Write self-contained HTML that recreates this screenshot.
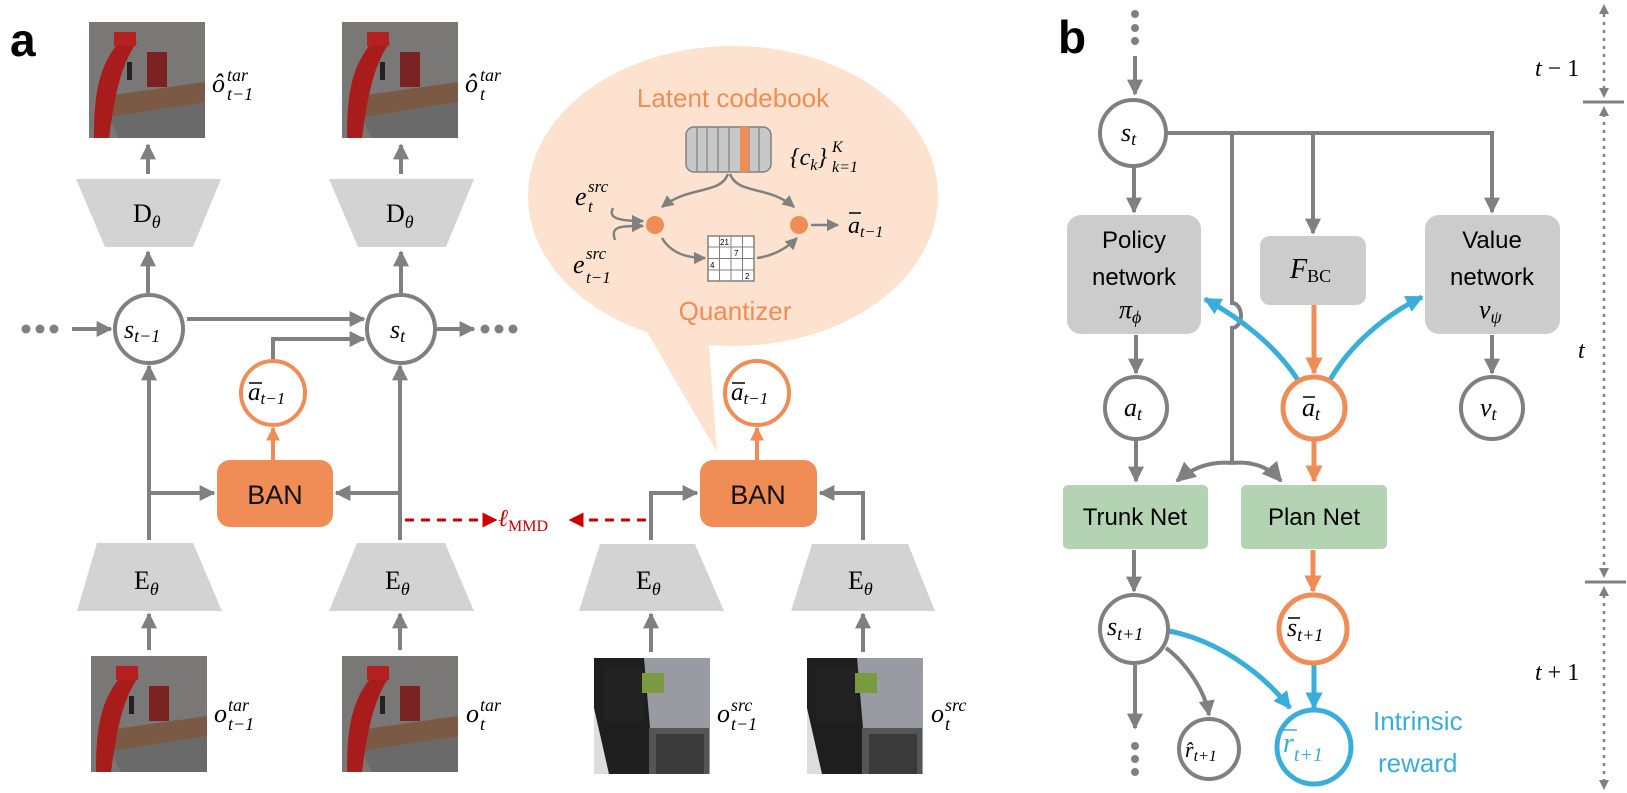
<!DOCTYPE html>
<html><head><meta charset="utf-8"><style>
html,body{margin:0;padding:0;background:#fff;}
svg{display:block;}
.m{font-family:"Liberation Serif",serif;font-style:italic;}
.r{font-family:"Liberation Serif",serif;}
.s{font-family:"Liberation Sans",sans-serif;}
</style></head><body>
<svg width="1627" height="793" viewBox="0 0 1627 793" xmlns="http://www.w3.org/2000/svg">
<defs>
<marker id="ag" viewBox="0 0 10 10" refX="9" refY="5" markerWidth="4" markerHeight="4" orient="auto"><path d="M0,0L10,5L0,10z" fill="#808080"/></marker>
<marker id="ao" viewBox="0 0 10 10" refX="9" refY="5" markerWidth="3.5" markerHeight="3.5" orient="auto"><path d="M0,0L10,5L0,10z" fill="#f08c55"/></marker>
<marker id="ab" viewBox="0 0 10 10" refX="9" refY="5" markerWidth="3.5" markerHeight="3.5" orient="auto"><path d="M0,0L10,5L0,10z" fill="#3aaedb"/></marker>
<marker id="ar" viewBox="0 0 10 10" refX="9" refY="5" markerWidth="5" markerHeight="5" orient="auto"><path d="M0,0L10,5L0,10z" fill="#cc0000"/></marker>
<marker id="as" viewBox="0 0 10 10" refX="9" refY="5" markerWidth="5" markerHeight="5" orient="auto"><path d="M0,0L10,5L0,10z" fill="#808080"/></marker>
<marker id="at" viewBox="0 0 10 10" refX="9" refY="5" markerWidth="5" markerHeight="5" orient="auto"><path d="M0,0L10,5L0,10z" fill="#808080"/></marker>
<g id="sim">
<rect width="116" height="116" fill="#7a7876"/>
<polygon points="10,75 116,60 116,116 30,116" fill="#7a5a45"/>
<polygon points="20,95 116,80 116,116 30,116" fill="#6a6a6a"/>
<path d="M5,116 C5,70 10,40 35,15 L48,20 C30,45 25,80 20,116z" fill="#a81c1c"/>
<rect x="25" y="10" width="22" height="14" fill="#b52020"/>
<rect x="58" y="30" width="20" height="35" fill="#7a2222"/>
<rect x="38" y="40" width="5" height="18" fill="#222"/>
</g>
<g id="kit">
<rect width="116" height="116" fill="#9a9aa2"/>
<polygon points="0,0 50,0 60,116 0,116" fill="#1e1e1e"/>
<polygon points="0,50 15,116 0,116" fill="#ddd"/>
<rect x="10" y="10" width="40" height="55" fill="#222"/>
<rect x="48" y="15" width="22" height="20" fill="#7a9a40"/>
<rect x="55" y="70" width="60" height="46" fill="#555"/>
<rect x="62" y="76" width="48" height="40" fill="#3a3a3a"/>
</g>
</defs>

<!-- panel a -->
<text x="10" y="56" font-family="Liberation Sans" font-weight="bold" font-size="46">a</text>

<use href="#sim" x="89" y="22"/>
<use href="#sim" x="342" y="22"/>
<text x="212" y="92" class="m" font-size="26">ô</text><text x="227" y="81" class="m" font-size="18">tar</text><text x="227" y="100" class="m" font-size="18">t−1</text>
<text x="465" y="92" class="m" font-size="26">ô</text><text x="480" y="81" class="m" font-size="18">tar</text><text x="480" y="100" class="m" font-size="18">t</text>

<g stroke="#808080" stroke-width="4" fill="none">
<line x1="148" y1="174" x2="148" y2="145" marker-end="url(#ag)"/>
<line x1="401" y1="174" x2="401" y2="145" marker-end="url(#ag)"/>
<line x1="148" y1="293" x2="148" y2="252" marker-end="url(#ag)"/>
<line x1="401" y1="293" x2="401" y2="252" marker-end="url(#ag)"/>
<line x1="72" y1="329" x2="111" y2="329" marker-end="url(#ag)"/>
<line x1="187" y1="319" x2="364" y2="319" marker-end="url(#ag)"/>
<polyline points="273,360 273,339 364,339" marker-end="url(#ag)"/>
<line x1="437" y1="329" x2="474" y2="329" marker-end="url(#ag)"/>
<line x1="149" y1="540" x2="149" y2="366" marker-end="url(#ag)"/>
<line x1="400" y1="540" x2="400" y2="366" marker-end="url(#ag)"/>
<line x1="149" y1="493" x2="214" y2="493" marker-end="url(#ag)"/>
<line x1="400" y1="493" x2="336" y2="493" marker-end="url(#ag)"/>
<polyline points="651,540 651,493 697,493" marker-end="url(#ag)"/>
<polyline points="863,540 863,493 820,493" marker-end="url(#ag)"/>
<line x1="149" y1="650" x2="149" y2="614" marker-end="url(#ag)"/>
<line x1="400" y1="650" x2="400" y2="614" marker-end="url(#ag)"/>
<line x1="651" y1="652" x2="651" y2="614" marker-end="url(#ag)"/>
<line x1="863" y1="652" x2="863" y2="614" marker-end="url(#ag)"/>
</g>
<g fill="#808080"><circle cx="26" cy="329" r="4.5"/><circle cx="40" cy="329" r="4.5"/><circle cx="54" cy="329" r="4.5"/>
<circle cx="485" cy="329" r="4.5"/><circle cx="499" cy="329" r="4.5"/><circle cx="513" cy="329" r="4.5"/></g>

<polygon points="76,179 221,179 193,247 105,247" fill="#d3d3d3"/>
<polygon points="329,179 474,179 446,247 358,247" fill="#d3d3d3"/>
<text x="133" y="222" class="r" font-size="26">D<tspan class="m" font-size="18" dy="6">θ</tspan></text>
<text x="386" y="222" class="r" font-size="26">D<tspan class="m" font-size="18" dy="6">θ</tspan></text>

<circle cx="149" cy="329" r="34" fill="#fff" stroke="#808080" stroke-width="4"/>
<circle cx="401" cy="329" r="34" fill="#fff" stroke="#808080" stroke-width="4"/>
<text x="124" y="338" class="m" font-size="26">s<tspan font-size="18" dy="4">t−1</tspan></text>
<text x="390" y="338" class="m" font-size="26">s<tspan font-size="18" dy="4">t</tspan></text>

<!-- speech bubble -->
<polygon points="640,320 717,452 707,320" fill="#fde3cf"/>
<ellipse cx="733" cy="196" rx="205" ry="150" fill="#fde3cf"/>
<text x="733" y="107" class="s" font-size="26" fill="#f08c55" text-anchor="middle">Latent codebook</text>
<text x="735" y="320" class="s" font-size="26" fill="#f08c55" text-anchor="middle">Quantizer</text>
<rect x="686" y="127" width="85" height="45" rx="8" fill="#c8c8c8" stroke="#808080" stroke-width="1.5"/>
<g stroke="#808080" stroke-width="1.2"><line x1="697" y1="127" x2="697" y2="172"/><line x1="707" y1="127" x2="707" y2="172"/><line x1="718" y1="127" x2="718" y2="172"/><line x1="729" y1="127" x2="729" y2="172"/><line x1="749" y1="127" x2="749" y2="172"/><line x1="759" y1="127" x2="759" y2="172"/></g>
<rect x="740" y="127" width="9" height="45" fill="#f08c55"/>
<text x="790" y="165" class="m" font-size="24">{c<tspan font-size="16" dy="5">k</tspan><tspan dy="-5">}</tspan></text>
<text x="832" y="152" class="m" font-size="16">K</text><text x="832" y="172" class="m" font-size="16">k=1</text>
<g stroke="#808080" stroke-width="2.5" fill="none">
<path d="M728,174 C720,195 690,185 662,207" marker-end="url(#as)"/>
<path d="M730,174 C738,195 768,185 794,207" marker-end="url(#as)"/>
<path d="M613,208 C608,218 618,221 643,221" marker-end="url(#as)"/>
<path d="M615,240 C610,226 620,226 643,226" marker-end="url(#as)"/>
<path d="M662,238 C672,255 690,258 705,258" marker-end="url(#as)"/>
<path d="M757,258 C772,256 785,250 797,238" marker-end="url(#as)"/>
<line x1="811" y1="225" x2="838" y2="225" marker-end="url(#as)"/>
</g>
<circle cx="655" cy="225" r="9" fill="#f08c55"/>
<circle cx="799" cy="225" r="9" fill="#f08c55"/>
<rect x="708" y="236" width="46" height="45" fill="#fff" stroke="#808080" stroke-width="1.5"/>
<g stroke="#808080" stroke-width="1"><line x1="719.5" y1="236" x2="719.5" y2="281"/><line x1="731" y1="236" x2="731" y2="281"/><line x1="742.5" y1="236" x2="742.5" y2="281"/><line x1="708" y1="247" x2="754" y2="247"/><line x1="708" y1="258.5" x2="754" y2="258.5"/><line x1="708" y1="270" x2="754" y2="270"/></g>
<g class="s" font-size="8"><text x="720" y="245">21</text><text x="734" y="256">7</text><text x="710" y="268">4</text><text x="745" y="279">2</text></g>
<text x="575" y="205" class="m" font-size="26">e</text><text x="588" y="192" class="m" font-size="17">src</text><text x="588" y="212" class="m" font-size="17">t</text>
<text x="573" y="273" class="m" font-size="26">e</text><text x="586" y="259" class="m" font-size="17">src</text><text x="586" y="283" class="m" font-size="17">t−1</text>
<text x="848" y="233" class="m" font-size="24">a<tspan font-size="16" dy="4">t−1</tspan></text>
<line x1="849" y1="213" x2="861" y2="213" stroke="#000" stroke-width="1.5"/>

<g stroke="#f08c55" stroke-width="4" fill="none">
<line x1="273" y1="460" x2="273" y2="428" marker-end="url(#ao)"/>
<line x1="757" y1="460" x2="757" y2="428" marker-end="url(#ao)"/>
</g>
<circle cx="273" cy="393" r="32" fill="#fff" stroke="#f08c55" stroke-width="4"/>
<circle cx="757" cy="393" r="32" fill="#fff" stroke="#f08c55" stroke-width="4"/>
<text x="248" y="400" class="m" font-size="25">a<tspan font-size="17" dy="4">t−1</tspan></text>
<line x1="249" y1="383" x2="262" y2="383" stroke="#000" stroke-width="1.5"/>
<text x="731" y="400" class="m" font-size="25">a<tspan font-size="17" dy="4">t−1</tspan></text>
<line x1="732" y1="383" x2="745" y2="383" stroke="#000" stroke-width="1.5"/>
<rect x="217" y="460" width="116" height="67" rx="13" fill="#f08c55"/>
<rect x="700" y="460" width="117" height="67" rx="13" fill="#f08c55"/>
<text x="275" y="504" class="s" font-size="27" fill="#111" text-anchor="middle">BAN</text>
<text x="758" y="504" class="s" font-size="27" fill="#111" text-anchor="middle">BAN</text>

<line x1="405" y1="520" x2="496" y2="520" stroke="#cc0000" stroke-width="3" stroke-dasharray="9,7" marker-end="url(#ar)"/>
<line x1="646" y1="520" x2="570" y2="520" stroke="#cc0000" stroke-width="3" stroke-dasharray="9,7" marker-end="url(#ar)"/>
<text x="498" y="526" class="m" font-size="24" fill="#cc0000">ℓ<tspan class="r" font-style="normal" font-size="16" dy="5">MMD</tspan></text>

<polygon points="97,543 193,543 222,611 77,611" fill="#d3d3d3"/>
<polygon points="357,543 445,543 474,611 329,611" fill="#d3d3d3"/>
<polygon points="600,544 695,544 724,611 579,611" fill="#d3d3d3"/>
<polygon points="812,544 908,544 935,611 791,611" fill="#d3d3d3"/>
<text x="134" y="589" class="r" font-size="26">E<tspan class="m" font-size="18" dy="6">θ</tspan></text>
<text x="385" y="589" class="r" font-size="26">E<tspan class="m" font-size="18" dy="6">θ</tspan></text>
<text x="636" y="589" class="r" font-size="26">E<tspan class="m" font-size="18" dy="6">θ</tspan></text>
<text x="848" y="589" class="r" font-size="26">E<tspan class="m" font-size="18" dy="6">θ</tspan></text>

<use href="#sim" x="91" y="656"/>
<use href="#sim" x="342" y="656"/>
<use href="#kit" x="594" y="658"/>
<use href="#kit" x="807" y="658"/>
<text x="214" y="722" class="m" font-size="26">o</text><text x="228" y="711" class="m" font-size="18">tar</text><text x="228" y="730" class="m" font-size="18">t−1</text>
<text x="466" y="722" class="m" font-size="26">o</text><text x="480" y="711" class="m" font-size="18">tar</text><text x="480" y="730" class="m" font-size="18">t</text>
<text x="717" y="722" class="m" font-size="26">o</text><text x="731" y="711" class="m" font-size="18">src</text><text x="731" y="730" class="m" font-size="18">t−1</text>
<text x="931" y="722" class="m" font-size="26">o</text><text x="945" y="711" class="m" font-size="18">src</text><text x="945" y="730" class="m" font-size="18">t</text>

<!-- panel b -->
<text x="1058" y="53" font-family="Liberation Sans" font-weight="bold" font-size="46">b</text>
<g fill="#808080"><circle cx="1135" cy="14" r="4"/><circle cx="1135" cy="28" r="4"/><circle cx="1135" cy="41" r="4"/>
<circle cx="1135" cy="746" r="4"/><circle cx="1135" cy="759" r="4"/><circle cx="1135" cy="772" r="4"/></g>
<g stroke="#808080" stroke-width="4" fill="none">
<line x1="1135" y1="56" x2="1135" y2="94" marker-end="url(#ag)"/>
<polyline points="1167,133 1492,133 1492,212" marker-end="url(#ag)"/>
<line x1="1313" y1="133" x2="1313" y2="233" marker-end="url(#ag)"/>
<line x1="1134" y1="167" x2="1134" y2="212" marker-end="url(#ag)"/>
<path d="M1232,133 L1232,303 A9,12.5 0 0 1 1232,328 L1232,463"/>
<path d="M1232,463 C1210,461 1192,468 1177,481" marker-end="url(#at)"/>
<path d="M1232,463 C1254,461 1270,468 1281,481" marker-end="url(#at)"/>
<line x1="1136" y1="440" x2="1136" y2="481" marker-end="url(#ag)"/>
<line x1="1136" y1="335" x2="1136" y2="373" marker-end="url(#ag)"/>
<line x1="1492" y1="335" x2="1492" y2="373" marker-end="url(#ag)"/>
<line x1="1134" y1="550" x2="1134" y2="591" marker-end="url(#ag)"/>
<line x1="1135" y1="665" x2="1135" y2="728" marker-end="url(#ag)"/>
<path d="M1166,648 C1185,662 1205,690 1209,715" marker-end="url(#ag)"/>
</g>
<g stroke="#f08c55" stroke-width="5" fill="none">
<line x1="1314" y1="305" x2="1314" y2="373" marker-end="url(#ao)"/>
<line x1="1314" y1="440" x2="1314" y2="481" marker-end="url(#ao)"/>
<line x1="1313" y1="550" x2="1313" y2="591" marker-end="url(#ao)"/>
</g>
<g stroke="#3aaedb" stroke-width="5" fill="none">
<path d="M1298,380 C1275,345 1240,318 1205,299" marker-end="url(#ab)"/>
<path d="M1330,380 C1350,345 1385,315 1422,297" marker-end="url(#ab)"/>
<path d="M1169,631 C1215,640 1260,670 1290,708" marker-end="url(#ab)"/>
<line x1="1314" y1="665" x2="1314" y2="708" marker-end="url(#ab)"/>
</g>
<circle cx="1133" cy="133" r="33" fill="#fff" stroke="#808080" stroke-width="4"/>
<text x="1121" y="141" class="m" font-size="26">s<tspan font-size="18" dy="4">t</tspan></text>

<rect x="1067" y="215" width="134" height="119" rx="14" fill="#cccccc"/>
<rect x="1260" y="236" width="106" height="69" rx="10" fill="#cccccc"/>
<rect x="1425" y="215" width="135" height="119" rx="14" fill="#cccccc"/>
<text x="1134" y="248" class="s" font-size="24" text-anchor="middle">Policy</text>
<text x="1134" y="285" class="s" font-size="24" text-anchor="middle">network</text>
<text x="1119" y="318" class="m" font-size="26">π<tspan font-size="18" dy="5">ϕ</tspan></text>
<text x="1290" y="278" class="m" font-size="28">F<tspan class="r" font-style="normal" font-size="18" dy="4">BC</tspan></text>
<text x="1492" y="248" class="s" font-size="24" text-anchor="middle">Value</text>
<text x="1492" y="285" class="s" font-size="24" text-anchor="middle">network</text>
<text x="1479" y="318" class="m" font-size="26">v<tspan font-size="18" dy="5">ψ</tspan></text>

<circle cx="1136" cy="408" r="31" fill="#fff" stroke="#808080" stroke-width="4"/>
<circle cx="1314" cy="408" r="31" fill="#fff" stroke="#f08c55" stroke-width="5"/>
<circle cx="1492" cy="408" r="31" fill="#fff" stroke="#808080" stroke-width="4"/>
<text x="1124" y="416" class="m" font-size="26">a<tspan font-size="18" dy="4">t</tspan></text>
<text x="1302" y="416" class="m" font-size="26">a<tspan font-size="18" dy="4">t</tspan></text>
<line x1="1303" y1="397" x2="1315" y2="397" stroke="#000" stroke-width="1.5"/>
<text x="1480" y="416" class="m" font-size="26">v<tspan font-size="18" dy="4">t</tspan></text>

<rect x="1063" y="485" width="145" height="64" rx="5" fill="#b3d3b3"/>
<rect x="1241" y="485" width="146" height="64" rx="5" fill="#b3d3b3"/>
<text x="1135" y="525" class="s" font-size="24" text-anchor="middle">Trunk Net</text>
<text x="1314" y="525" class="s" font-size="24" text-anchor="middle">Plan Net</text>

<circle cx="1134" cy="629" r="34" fill="#fff" stroke="#808080" stroke-width="4"/>
<circle cx="1313" cy="629" r="34" fill="#fff" stroke="#f08c55" stroke-width="5"/>
<circle cx="1209" cy="749" r="30" fill="#fff" stroke="#808080" stroke-width="4"/>
<circle cx="1314" cy="747" r="37" fill="#fff" stroke="#3aaedb" stroke-width="5"/>
<text x="1107" y="635" class="m" font-size="26">s<tspan font-size="18" dy="5">t+1</tspan></text>
<text x="1287" y="636" class="m" font-size="26">s<tspan font-size="18" dy="5">t+1</tspan></text>
<line x1="1288" y1="618" x2="1300" y2="618" stroke="#000" stroke-width="1.5"/>
<text x="1185" y="757" class="m" font-size="22">r̂<tspan font-size="16" dy="4">t+1</tspan></text>
<text x="1283" y="752" class="m" font-size="28" fill="#3aaedb">r<tspan font-size="20" dy="9">t+1</tspan></text>
<line x1="1283" y1="730" x2="1297" y2="730" stroke="#3aaedb" stroke-width="1.5"/>
<text x="1373" y="730" class="s" font-size="26" fill="#3aaedb">Intrinsic</text>
<text x="1378" y="772" class="s" font-size="26" fill="#3aaedb">reward</text>

<g stroke="#808080" stroke-width="2.5" stroke-dasharray="3,5">
<line x1="1604" y1="14" x2="1604" y2="90"/>
<line x1="1604" y1="114" x2="1604" y2="570"/>
<line x1="1604" y1="595" x2="1604" y2="780"/>
</g>
<g fill="#808080">
<path d="M1599,14 L1609,14 L1604,4z"/><path d="M1599,88 L1609,88 L1604,98z"/>
<path d="M1599,116 L1609,116 L1604,106z"/><path d="M1599,568 L1609,568 L1604,578z"/>
<path d="M1599,596 L1609,596 L1604,586z"/><path d="M1599,780 L1609,780 L1604,790z"/>
</g>
<line x1="1583" y1="102" x2="1624" y2="102" stroke="#808080" stroke-width="3"/>
<line x1="1585" y1="582" x2="1626" y2="582" stroke="#808080" stroke-width="3"/>
<text x="1535" y="76" class="m" font-size="24">t <tspan class="r" font-style="normal">− 1</tspan></text>
<text x="1578" y="358" class="m" font-size="24">t</text>
<text x="1535" y="680" class="m" font-size="24">t <tspan class="r" font-style="normal">+ 1</tspan></text>
</svg>
</body></html>
